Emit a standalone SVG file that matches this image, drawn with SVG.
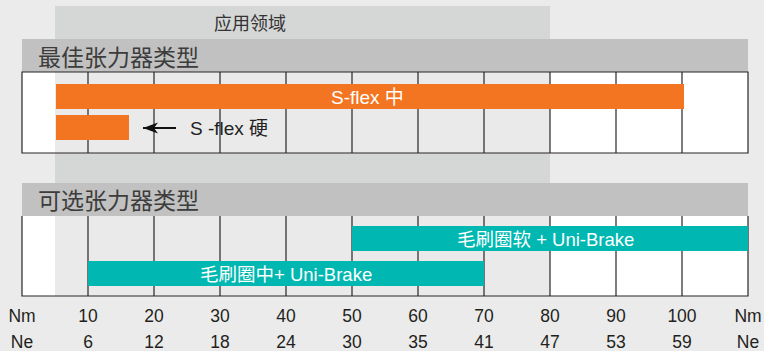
<svg xmlns="http://www.w3.org/2000/svg" width="764" height="351" viewBox="0 0 764 351">
<style>
text{font-family:"Liberation Sans","Noto Sans CJK SC",sans-serif;}
.hdr{fill:#c0c1c0;}
.ht{font-size:23px;fill:#3c3c3c;}
.grid{stroke:#2a2526;stroke-width:1.2;fill:none;}
.or{fill:#f37521;}
.cy{fill:#00b8b1;}
.bt{font-size:18.5px;fill:#ffffff;}
.ax{font-size:17.5px;fill:#231f20;text-anchor:middle;}
</style>
<defs>
<marker id="ah" markerWidth="16" markerHeight="12" refX="15" refY="6" orient="auto" markerUnits="userSpaceOnUse">
<path d="M15,6 L0,0.5 L4,6 L0,11.5 Z" fill="#111"/>
</marker>
</defs>
<rect width="764" height="351" fill="#ebebeb"/>
<g id="app-area">
<rect x="55" y="6" width="495" height="177" fill="#d5d7d6"/>
<text x="214" y="30" style="font-size:18px;fill:#333">应用领域</text>
</g>
<g id="table-best">
<rect x="22" y="72" width="33" height="81" fill="#ffffff"/>
<rect x="55" y="72" width="495" height="81" fill="#eaeaea"/>
<rect x="550" y="72" width="198" height="81" fill="#ffffff"/>
<rect class="hdr" x="22" y="39" width="726" height="33"/>
<text class="ht" x="38" y="65.5">最佳张力器类型</text>
<path class="grid" d="M22,72 H748 V153 H22 Z M88,72 V153 M154,72 V153 M220,72 V153 M286,72 V153 M352,72 V153 M418,72 V153 M484,72 V153 M550,72 V153 M616,72 V153 M682,72 V153"/>
</g>
<g id="table-optional">
<rect x="22" y="216" width="33" height="80" fill="#ffffff"/>
<rect x="55" y="216" width="495" height="80" fill="#eaeaea"/>
<rect x="550" y="216" width="198" height="80" fill="#ffffff"/>
<rect class="hdr" x="22" y="183" width="726" height="33"/>
<text class="ht" x="38" y="208.5">可选张力器类型</text>
<path class="grid" d="M22,216 V296 H748 V216 M88,216 V296 M154,216 V296 M220,216 V296 M286,216 V296 M352,216 V296 M418,216 V296 M484,216 V296 M550,216 V296 M616,216 V296 M682,216 V296"/>
</g>
<g id="bar-sflex-mid">
<rect class="or" x="56" y="84" width="628" height="25"/>
<text class="bt" x="331" y="103.5" style="font-size:19px">S-flex 中</text>
</g>
<g id="bar-sflex-hard">
<rect class="or" x="56" y="115" width="73" height="25"/>
</g>
<g id="label-sflex-hard">
<text x="190" y="135" style="font-size:19px;fill:#222">S -flex 硬</text>
</g>
<g id="bar-brush-soft">
<rect class="cy" x="352" y="226" width="396" height="25"/>
<text class="bt" x="457" y="246">毛刷圈软 + Uni-Brake</text>
</g>
<g id="bar-brush-mid">
<rect class="cy" x="88" y="261" width="396" height="25"/>
<text class="bt" x="200" y="281">毛刷圈中+ Uni-Brake</text>
</g>
<g id="connectors">
<line x1="176" y1="128" x2="143" y2="128" stroke="#111" stroke-width="2" marker-end="url(#ah)"/>
</g>
<g id="axis">
<text class="ax" x="22" y="322">Nm</text>
<text class="ax" x="88" y="322">10</text>
<text class="ax" x="154" y="322">20</text>
<text class="ax" x="220" y="322">30</text>
<text class="ax" x="286" y="322">40</text>
<text class="ax" x="352" y="322">50</text>
<text class="ax" x="418" y="322">60</text>
<text class="ax" x="484" y="322">70</text>
<text class="ax" x="550" y="322">80</text>
<text class="ax" x="616" y="322">90</text>
<text class="ax" x="682" y="322">100</text>
<text class="ax" x="748" y="322">Nm</text>
<text class="ax" x="22" y="348">Ne</text>
<text class="ax" x="88" y="348">6</text>
<text class="ax" x="154" y="348">12</text>
<text class="ax" x="220" y="348">18</text>
<text class="ax" x="286" y="348">24</text>
<text class="ax" x="352" y="348">30</text>
<text class="ax" x="418" y="348">35</text>
<text class="ax" x="484" y="348">41</text>
<text class="ax" x="550" y="348">47</text>
<text class="ax" x="616" y="348">53</text>
<text class="ax" x="682" y="348">59</text>
<text class="ax" x="748" y="348">Ne</text>
</g>
</svg>
